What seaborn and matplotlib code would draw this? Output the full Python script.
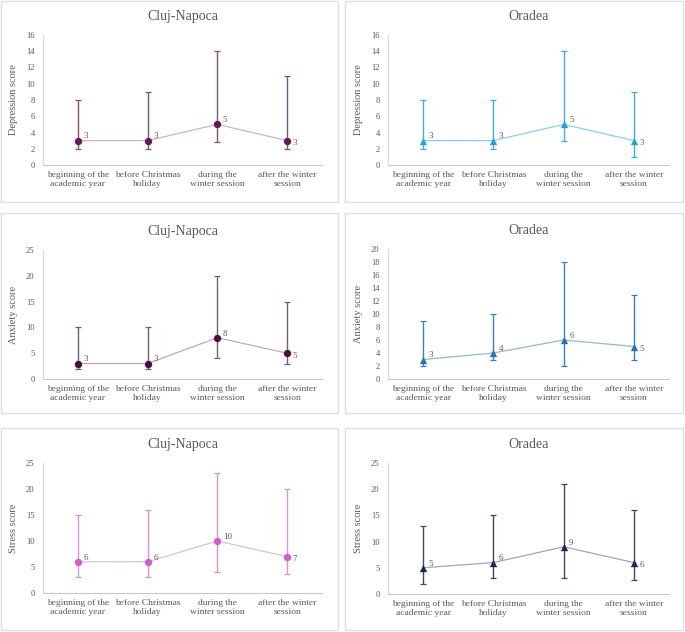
import matplotlib
matplotlib.use("Agg")
import matplotlib.pyplot as plt
from matplotlib.patches import Rectangle
import seaborn as sns
import pandas as pd

sns.set_theme(style="white")
plt.rcParams['font.family'] = ['Liberation Serif', 'DejaVu Serif']

categories = ["beginning of the\nacademic year", "before Christmas\nholiday",
              "during the\nwinter session", "after the winter\nsession"]

dep_cluj_med = [3, 3, 5, 3]
dep_cluj_lo = [2, 2, 2.8, 2]
dep_cluj_hi = [8, 9, 14, 11]

dep_ora_med = [3, 3, 5, 3]
dep_ora_lo = [2, 2, 3, 1]
dep_ora_hi = [8, 8, 14, 9]

anx_cluj_med = [3, 3, 8, 5]
anx_cluj_lo = [2, 2, 4, 3]
anx_cluj_hi = [10, 10, 20, 15]

anx_ora_med = [3, 4, 6, 5]
anx_ora_lo = [2, 3, 2, 3]
anx_ora_hi = [9, 10, 18, 13]

str_cluj_med = [6, 6, 10, 7]
str_cluj_lo = [3, 3, 4, 3.7]
str_cluj_hi = [15, 16, 23, 20]

str_ora_med = [5, 6, 9, 6]
str_ora_lo = [2, 3, 3, 2.7]
str_ora_hi = [13, 15, 21, 16]

panels = [
    # title, ylabel, med, lo, hi, ymax, ystep, marker, mcolor, ecolor, lcolor, rect
    ("Cluj-Napoca", "Depression score", dep_cluj_med, dep_cluj_lo, dep_cluj_hi, 16, 2, "o",
     "#641a58", "#86507a", "#cbb6c4", [43, 35, 322, 165], [1, 1, 338, 202]),
    ("Oradea", "Depression score", dep_ora_med, dep_ora_lo, dep_ora_hi, 16, 2, "^",
     "#25a3d5", "#3eaedb", "#8dd0ea", [388, 35, 669, 165], [345, 1, 683, 202]),
    ("Cluj-Napoca", "Anxiety score", anx_cluj_med, anx_cluj_lo, anx_cluj_hi, 25, 5, "o",
     "#4a0f42", "#7a5c72", "#b9adb5", [43, 250, 322, 379], [1, 213, 338, 413]),
    ("Oradea", "Anxiety score", anx_ora_med, anx_ora_lo, anx_ora_hi, 20, 2, "^",
     "#2874b5", "#3a80b8", "#94bdb5", [388, 249, 669, 379], [345, 213, 683, 413]),
    ("Cluj-Napoca", "Stress score", str_cluj_med, str_cluj_lo, str_cluj_hi, 25, 5, "o",
     "#d25fc6", "#da92d2", "#d6c6cf", [43, 463, 322, 593], [1, 428, 338, 630]),
    ("Oradea", "Stress score", str_ora_med, str_ora_lo, str_ora_hi, 25, 5, "^",
     "#1b295a", "#3d466c", "#a5a6ad", [388, 463, 669, 594], [345, 428, 683, 630]),
]

W, H = 685, 632
fig = plt.figure(figsize=(W / 100, H / 100), dpi=100)
fig.patch.set_facecolor("white")

text_color = "#595959"

for (title, ylabel, med, lo, hi, ymax, ystep, marker, mcol, ecol, lcol, box, frame) in panels:
    # frame
    fig.patches.append(Rectangle((frame[0] / W, 1 - frame[3] / H), (frame[2] - frame[0]) / W,
                                 (frame[3] - frame[1]) / H, transform=fig.transFigure,
                                 fill=False, edgecolor="#e0e0e0", linewidth=1.0))
    ax = fig.add_axes([box[0] / W, 1 - box[3] / H, (box[2] - box[0]) / W, (box[3] - box[1]) / H])
    df = pd.DataFrame({"x": list(range(len(categories))), "med": med, "lo": lo, "hi": hi})
    sns.lineplot(data=df, x="x", y="med", ax=ax, color=lcol, linewidth=0.9, zorder=1)
    ax.errorbar(df["x"], df["med"], yerr=[df["med"] - df["lo"], df["hi"] - df["med"]],
                fmt="none", ecolor=ecol, elinewidth=1.0, capsize=2.5, capthick=0.9, zorder=2)
    sns.scatterplot(data=df, x="x", y="med", ax=ax, marker=marker, color=mcol, s=28,
                    edgecolor=mcol, linewidth=0, zorder=3)
    for i, v in enumerate(med):
        dy = 3 if i < len(med) - 1 else -2
        ax.annotate(f"{v:g}", (i, v), xytext=(4, dy), textcoords="offset points",
                    fontsize=6.5, color=text_color, va="center", ha="left")
    ax.set_xlim(-0.5, len(categories) - 0.5)
    ax.set_ylim(0, ymax)
    ax.set_yticks(list(range(0, ymax + 1, ystep)))
    ax.set_xticks(range(len(categories)))
    ax.set_xticklabels(categories, fontsize=6.8, color=text_color, linespacing=1.2)
    ax.tick_params(axis="y", labelsize=6.2, labelcolor=text_color, length=0, pad=6)
    ax.tick_params(axis="x", length=0, pad=4)
    ax.set_xlabel("")
    ax.set_ylabel(ylabel, fontsize=7.5, color=text_color, labelpad=6)
    ax.set_title(title, fontsize=10, color=text_color, pad=11)
    for s in ["top", "right"]:
        ax.spines[s].set_visible(False)
    ax.spines["left"].set_color("#d9d9d9")
    ax.spines["bottom"].set_color("#c8c8c8")
    ax.spines["left"].set_linewidth(0.8)
    ax.spines["bottom"].set_linewidth(0.8)
    ax.set_facecolor("white")

fig.savefig("out.png", dpi=100, facecolor="white")
